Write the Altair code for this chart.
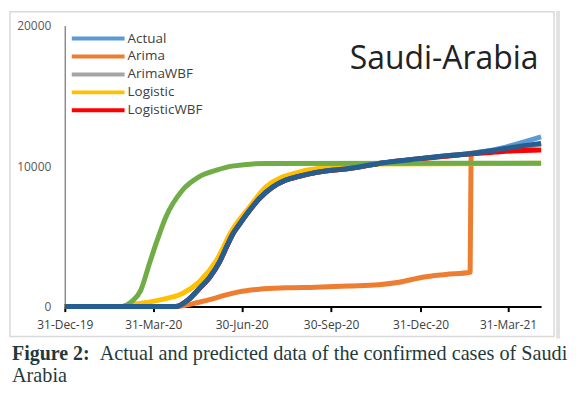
import altair as alt
import pandas as pd

# ---------------- data ----------------
series_names = ["Actual", "Arima", "ArimaWBF", "Logistic", "LogisticWBF", "Model6", "Model7"]
series_colors = ["#5B9BD5", "#ED7D31", "#A5A5A5", "#FFC000", "#FF0000", "#70AD47", "#255E91"]
legend_names = ["Actual", "Arima", "ArimaWBF", "Logistic", "LogisticWBF"]

tick_dates = ["2019-12-31", "2020-03-31", "2020-06-30", "2020-09-30", "2020-12-31", "2021-03-31"]
y_ticks = [0, 10000, 20000]

# dark blue series (drawn on top)
m7_dates = ["2019-12-31", "2020-04-23", "2020-05-07", "2020-05-17", "2020-05-28", "2020-06-07",
            "2020-06-15", "2020-06-21", "2020-06-28", "2020-07-08", "2020-07-18", "2020-08-01",
            "2020-08-14", "2020-08-28", "2020-09-14", "2020-10-01", "2020-10-18", "2020-11-18",
            "2020-12-22", "2021-01-25", "2021-02-22", "2021-03-18", "2021-04-04", "2021-05-04"]
m7_values = [0, 0, 550, 1260, 2090, 3165, 4355, 5190, 5900, 6850, 7690, 8520,
             9000, 9280, 9545, 9710, 9830, 10190, 10470, 10730, 10900, 11140, 11330, 11620]

actual_dates = m7_dates
actual_values = [0, 0, 550, 1260, 2090, 3165, 4355, 5190, 5900, 6850, 7690, 8520,
                 9000, 9280, 9545, 9710, 9830, 10190, 10470, 10730, 10910, 11180, 11480, 12080]

arimawbf_dates = m7_dates
arimawbf_values = [0, 0, 540, 1250, 2080, 3150, 4340, 5180, 5890, 6840, 7680, 8510,
                   8990, 9270, 9540, 9700, 9820, 10180, 10460, 10720, 10890, 11120, 11300, 11550]

logwbf_dates = m7_dates
logwbf_values = [0, 0, 540, 1250, 2080, 3150, 4340, 5180, 5890, 6840, 7680, 8510,
                 8990, 9270, 9540, 9700, 9820, 10180, 10460, 10700, 10880, 11000, 11080, 11150]

arima_dates = ["2019-12-31", "2020-04-23", "2020-05-17", "2020-05-31", "2020-06-14", "2020-06-27",
               "2020-07-18", "2020-08-14", "2020-09-14", "2020-10-18", "2020-11-18", "2020-12-09",
               "2021-01-02", "2021-01-26", "2021-02-20", "2021-02-21", "2021-03-18", "2021-04-04",
               "2021-05-04"]
arima_values = [0, 0, 310, 550, 835, 1050, 1240, 1335, 1380, 1470, 1560, 1735,
                2090, 2285, 2450, 10900, 11100, 11300, 11580]

logistic_dates = ["2019-12-31", "2020-02-25", "2020-03-10", "2020-04-13", "2020-04-30", "2020-05-17",
                  "2020-06-04", "2020-06-20", "2020-07-08", "2020-07-25", "2020-08-29", "2020-10-03",
                  "2020-11-18", "2021-05-04"]
logistic_values = [0, 0, 150, 570, 930, 1740, 3280, 5430, 7090, 8520, 9590, 9950, 10150, 10200]

m6_dates = ["2019-12-31", "2020-02-25", "2020-03-03", "2020-03-10", "2020-03-18", "2020-03-27",
            "2020-04-04", "2020-04-13", "2020-04-30", "2020-05-17", "2020-06-04", "2020-06-20",
            "2020-07-25", "2021-05-04"]
m6_values = [0, 0, 100, 430, 1140, 3050, 4710, 6380, 8280, 9230, 9710, 10000, 10190, 10200]

series_data = {
    "Actual": (actual_dates, actual_values),
    "Arima": (arima_dates, arima_values),
    "ArimaWBF": (arimawbf_dates, arimawbf_values),
    "Logistic": (logistic_dates, logistic_values),
    "LogisticWBF": (logwbf_dates, logwbf_values),
    "Model6": (m6_dates, m6_values),
    "Model7": (m7_dates, m7_values),
}

title_text = "Saudi-Arabia"
caption_bold = "Figure 2:"
caption_line1 = "Actual and predicted data of the confirmed cases of Saudi"
caption_line2 = "Arabia"

# ---------------- build tables ----------------
rows = []
for name, color in zip(series_names, series_colors):
    ds, vs = series_data[name]
    for d, v in zip(ds, vs):
        rows.append({"series": name, "color": color, "date": d, "value": v})
df = pd.DataFrame(rows)

leg_df = pd.DataFrame({"name": legend_names,
                       "color": [series_colors[series_names.index(n)] for n in legend_names]})
one = pd.DataFrame({"k": [0]})


def dt(s):
    y, m, d = (int(p) for p in s.split("-"))
    return alt.DateTime(year=y, month=m, date=d, utc=True)


FONT = "Open Sans"

x_enc = alt.X("date:T",
              scale=alt.Scale(type="utc", domain=[dt("2019-12-31"), dt("2021-05-04")]),
              axis=alt.Axis(values=[dt(t) for t in tick_dates], format="%d-%b-%y",
                            title=None, grid=False, domainColor="#000000", domainWidth=2,
                            tickColor="#000000", tickWidth=2, tickSize=5, labelPadding=8,
                            labelFont=FONT, labelFontSize=12, labelColor="#404040",
                            labelFlush=False, labelOverlap=False))
y_enc = alt.Y("value:Q",
              scale=alt.Scale(domain=[0, 20000], nice=False),
              axis=alt.Axis(values=y_ticks, format="d", title=None, grid=False, ticks=False,
                            domainColor="#8c8c8c", domainWidth=1.5, labelPadding=14,
                            labelFont=FONT, labelFontSize=12, labelColor="#595959"))

base = alt.Chart(df).encode(x=x_enc, y=y_enc, color=alt.Color("color:N", scale=None, legend=None))
lines = [base.transform_filter(alt.datum.series == s)
         .mark_line(strokeWidth=5, strokeJoin="round", strokeCap="butt", interpolate="monotone")
         for s in series_names]

frame = alt.Chart(one).mark_rect(fillOpacity=0, stroke="#d9d9d9", strokeWidth=1.5).encode(
    x=alt.value(-55), x2=alt.value(491), y=alt.value(-14), y2=alt.value(312))
band = alt.Chart(one).mark_rule(stroke="#e2e2e2", strokeWidth=4).encode(
    x=alt.value(495), y=alt.value(-15), y2=alt.value(314))

title = alt.Chart(one).mark_text(font=FONT, fontSize=32, align="left", baseline="alphabetic",
                                 color="#222222").encode(
    x=alt.value(286), y=alt.value(44), text=alt.value(title_text))

# legend rows: pixel position from the row number (identity scale)
LEG_TOP, LEG_STEP = 13, 18
leg_base = alt.Chart(leg_df).transform_window(
    row="row_number()"
).transform_calculate(
    py=f"{LEG_TOP} + {LEG_STEP} * (datum.row - 1)"
)
leg_y = alt.Y("py:Q", scale=None, axis=None)
leg_lines = leg_base.mark_rule(strokeWidth=4).encode(
    x=alt.value(7), x2=alt.value(60), y=leg_y, color=alt.Color("color:N", scale=None, legend=None))
leg_text = leg_base.mark_text(font=FONT, fontSize=13.5, align="left", baseline="middle",
                              color="#404040").encode(
    x=alt.value(63), y=leg_y, text="name:N")

cap_color = "#1f3a3d"
cap1b = alt.Chart(one).mark_text(font="Liberation Serif", fontSize=20, fontWeight="bold",
                                 align="left", baseline="alphabetic", color=cap_color).encode(
    x=alt.value(-53), y=alt.value(336), text=alt.value(caption_bold))
cap1 = alt.Chart(one).mark_text(font="Liberation Serif", fontSize=20.3,
                                align="left", baseline="alphabetic", color=cap_color).encode(
    x=alt.value(35), y=alt.value(336), text=alt.value(caption_line1))
cap2 = alt.Chart(one).mark_text(font="Liberation Serif", fontSize=20.3,
                                align="left", baseline="alphabetic", color=cap_color).encode(
    x=alt.value(-53), y=alt.value(358), text=alt.value(caption_line2))

chart = alt.layer(frame, band, *lines, title, leg_lines, leg_text, cap1b, cap1, cap2).properties(
    width=478, height=282,
    autosize=alt.AutoSizeParams(type="none"),
    padding={"left": 57, "top": 17, "right": 27, "bottom": 83},
    background="white",
).configure_view(stroke=None)

chart.save("out.html", embed_options={"renderer": "svg", "actions": False})
